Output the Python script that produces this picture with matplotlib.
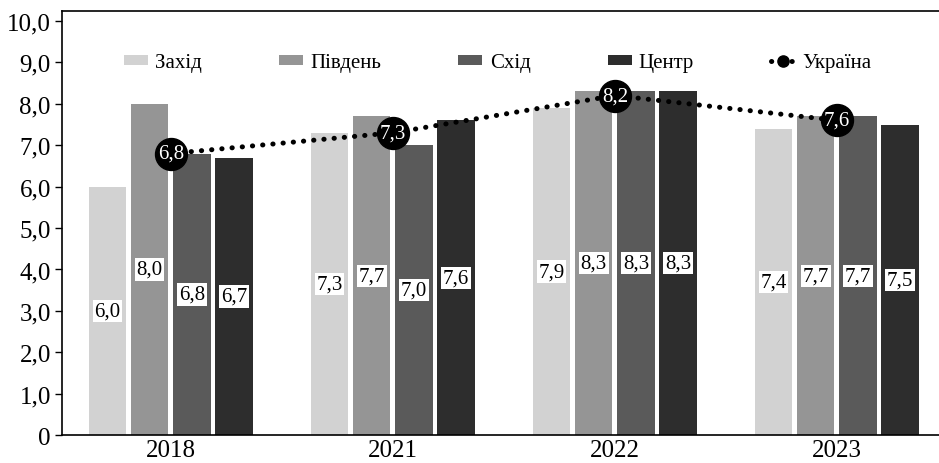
import matplotlib.pyplot as plt
import numpy as np

plt.rcParams['font.family'] = ['Liberation Serif', 'DejaVu Serif']

years = ['2018', '2021', '2022', '2023']
regions = ['Захід', 'Південь', 'Схід', 'Центр']
values = {
    'Захід': [6.0, 7.3, 7.9, 7.4],
    'Південь': [8.0, 7.7, 8.3, 7.7],
    'Схід': [6.8, 7.0, 8.3, 7.7],
    'Центр': [6.7, 7.6, 8.3, 7.5],
}
ukraine = [6.8, 7.3, 8.2, 7.6]
colors = ['#d2d2d2', '#959595', '#5a5a5a', '#2d2d2d']

def fmt(v):
    return f'{v:.1f}'.replace('.', ',')

fig = plt.figure(figsize=(9.39, 4.64), dpi=100)
ax = fig.add_axes([0.066, 0.060, 0.934, 0.914])

x = np.arange(len(years))
step = 0.19
width = 0.168
handles = []
for i, reg in enumerate(regions):
    pos = x + (i - 1.5) * step
    b = ax.bar(pos, values[reg], width, color=colors[i], label=reg, zorder=2)
    handles.append(b)
    for p, v in zip(pos, values[reg]):
        ax.text(p, v / 2, fmt(v), ha='center', va='center', fontsize=15,
                color='black', zorder=4,
                bbox=dict(boxstyle='square,pad=0.08', fc='white', ec='none'))

line, = ax.plot(x, ukraine, color='black', lw=3.6, linestyle=(0, (0.05, 2.0)),
                dash_capstyle='round', marker='o', markersize=23,
                markerfacecolor='black', markeredgecolor='black',
                label='Україна', zorder=5)
handles.append(line)
for xi, v in zip(x, ukraine):
    ax.text(xi, v, fmt(v), ha='center', va='center', fontsize=15,
            color='white', zorder=6)

ax.set_xlim(-0.49, 3.46)
ax.set_ylim(0, 10.24)
ax.set_xticks(x)
ax.set_xticklabels(years, fontsize=18)
ax.tick_params(axis='x', length=0, pad=3)
yt = np.arange(0, 11)
ax.set_yticks(yt)
ax.set_yticklabels(['0'] + [fmt(float(t)) for t in yt[1:]], fontsize=18)
ax.tick_params(axis='y', length=5, width=1, direction='out', pad=3)
ax.spines['right'].set_visible(False)
for s in ['left', 'bottom', 'top']:
    ax.spines[s].set_linewidth(1.2)

leg = ax.legend(handles, regions + ['Україна'], loc='center',
                bbox_to_anchor=(0.497, 0.878), ncol=5,
                frameon=False, fontsize=15, handlelength=1.15, handleheight=0.4,
                columnspacing=3.7, handletextpad=0.35, markerscale=0.35)

fig.savefig('out.png', dpi=100)
